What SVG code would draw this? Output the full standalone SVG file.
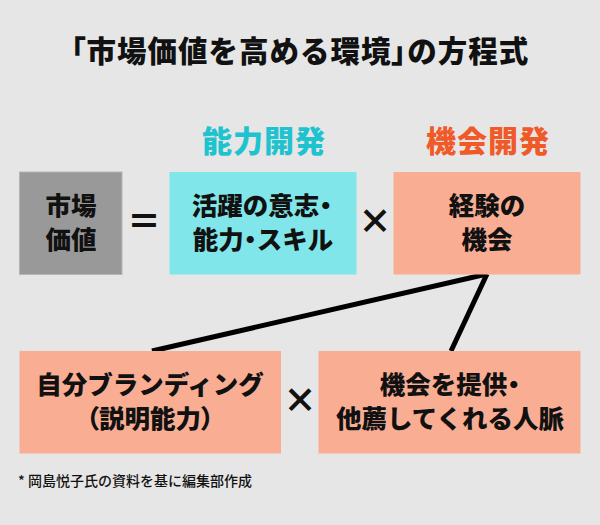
<svg xmlns="http://www.w3.org/2000/svg" width="600" height="525" viewBox="0 0 600 525">
<style>
text{font-family:"Noto Sans CJK JP","Noto Sans",sans-serif;font-weight:900;fill:#111;text-anchor:middle}
.box{font-size:25.5px}
.op{font-size:34px}
.head{font-size:30px;letter-spacing:1px}
.p{font-feature-settings:"palt"}
</style>
<rect width="600" height="525" fill="#e6e6e6"/>
<text x="300" y="62" font-size="29.5" letter-spacing="1"><tspan class="p">「</tspan>市場価値を高める環境<tspan class="p">」</tspan>の方程式</text>
<text class="head" x="264" y="152" style="fill:#1fc3cf">能力開発</text>
<text class="head" x="488" y="152" style="fill:#f05a28">機会開発</text>
<g id="connectors" stroke="#000" stroke-width="5" fill="none">
<line x1="487" y1="274" x2="152" y2="351"/>
<line x1="487" y1="274" x2="451" y2="351"/>
</g>
<g id="market">
<rect x="19.5" y="172" width="102.5" height="102.5" fill="#999" stroke="#b5b5b5" stroke-width="1"/>
<text class="box" x="71" y="215">市場</text>
<text class="box" x="71" y="249">価値</text>
</g>
<text class="op" x="144" y="234">＝</text>
<g id="ability">
<rect x="169.5" y="172" width="187" height="102.5" fill="#80e6ea"/>
<text class="box" x="262" y="215">活躍の意志<tspan class="p">・</tspan></text>
<text class="box" x="263" y="249">能力<tspan class="p">・</tspan>スキル</text>
</g>
<text class="op" x="375" y="234">×</text>
<g id="experience">
<rect x="393.5" y="172" width="187" height="102.5" fill="#f9ae94"/>
<text class="box" x="487" y="215">経験の</text>
<text class="box" x="487" y="249">機会</text>
</g>
<g id="branding">
<rect x="19.5" y="351" width="261.5" height="102.5" fill="#f9ae94"/>
<text class="box" x="150" y="394">自分ブランディング</text>
<text class="box" x="150" y="428"><tspan class="p">（</tspan>説明能力<tspan class="p">）</tspan></text>
</g>
<text class="op" x="300" y="413">×</text>
<g id="network">
<rect x="318.5" y="351" width="262" height="102.5" fill="#f9ae94"/>
<text class="box" x="450" y="394">機会を提供<tspan class="p">・</tspan></text>
<text class="box" x="450" y="428">他薦してくれる人脈</text>
</g>
<text x="18" y="486" font-size="14" style="text-anchor:start;font-weight:500">* 岡島悦子氏の資料を基に編集部作成</text>
</svg>
